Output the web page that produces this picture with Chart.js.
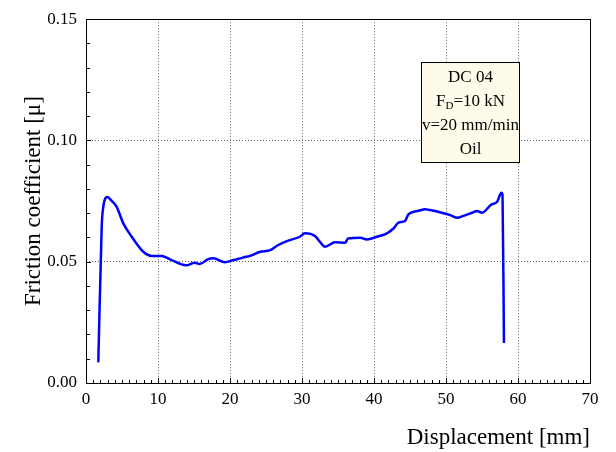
<!DOCTYPE html>
<html>
<head>
<meta charset="utf-8">
<title>Friction coefficient</title>
<script src="https://cdn.jsdelivr.net/npm/chart.js@4/dist/chart.umd.min.js"></script>
<style>
    html, body { margin: 0; padding: 0; background: #fff; }
    #wrap { position: relative; width: 616px; height: 452px; }
    #frictionChart { position: absolute; left: 0; top: 0; }
    .note-box {
        position: absolute; left: 421px; top: 62px; width: 97px;
        padding: 2px 0 1px 0;
        border: 1px solid #000; background: #fffbeb;
        font-family: 'Liberation Serif', 'Times New Roman', serif;
        font-size: 17px; line-height: 24px; text-align: center; color: #000;
    }
    .note-box sub { font-size: 11px; line-height: 0; vertical-align: -3px; }
</style>
</head>
<body>
<div id="wrap">
    <canvas id="frictionChart" width="616" height="452"></canvas>
    <div class="note-box">
        <div>DC 04</div>
        <div>F<sub>D</sub>=10 kN</div>
        <div>v=20 mm/min</div>
        <div>Oil</div>
    </div>
</div>
<script>
// values
var displacement = [1.71, 2.18, 2.4, 2.96, 3.57, 4.26, 5.18, 6.35, 7.96, 9.12,
    10.5, 11.67, 13.9, 15.1, 15.8, 16.98, 17.7, 19.3, 20.5, 21.9,
    22.8, 24.2, 25.6, 26.7, 27.9, 29.7, 30.4, 31.8, 32.5, 33.2,
    34.6, 36.0, 36.4, 38.1, 39.0, 40.4, 41.8, 42.7, 43.4, 44.3,
    44.8, 46.2, 47.1, 47.8, 49.4, 50.6, 51.6, 52.4, 53.6, 54.3,
    55.0, 56.3, 57.1, 57.7, 57.85, 58.05];
var friction = [0.0085, 0.0644, 0.0726, 0.0767, 0.0751, 0.0726, 0.0658, 0.0603, 0.0541, 0.0524,
    0.0524, 0.0510, 0.0485, 0.0496, 0.0491, 0.0511, 0.0514, 0.0498, 0.0507, 0.0518,
    0.0524, 0.0541, 0.0548, 0.0569, 0.0585, 0.0603, 0.0617, 0.0606, 0.0582, 0.0562,
    0.0580, 0.0578, 0.0596, 0.0599, 0.0592, 0.0603, 0.0617, 0.0637, 0.0661, 0.0668,
    0.0696, 0.0710, 0.0716, 0.0713, 0.0702, 0.0692, 0.0681, 0.0689, 0.0702, 0.0709,
    0.0702, 0.0736, 0.0747, 0.0784, 0.0774, 0.0165];

var xTicks = [0, 10, 20, 30, 40, 50, 60, 70];
var yTicks = [0.00, 0.05, 0.10, 0.15];

var serif = "'Liberation Serif', 'Times New Roman', serif";

// frame + small inward tick marks, the way the plotting program draws them
var frameTicks = {
    id: 'frameTicks',
    afterDraw: function (chart) {
        var ctx = chart.ctx;
        var a = chart.chartArea;
        var xs = chart.scales.x, ys = chart.scales.y;
        ctx.save();
        ctx.strokeStyle = '#000';
        ctx.lineWidth = 1;
        ctx.beginPath();
        var i, p;
        for (i = 0; i <= 70; i++) {
            p = Math.round(xs.getPixelForValue(i)) + 0.5;
            ctx.moveTo(p, a.bottom);
            ctx.lineTo(p, a.bottom - (i % 10 === 0 ? 5 : 3));
        }
        for (i = 0; i <= 15; i++) {
            p = Math.round(ys.getPixelForValue(i / 100)) + 0.5;
            ctx.moveTo(a.left, p);
            ctx.lineTo(a.left + (i % 5 === 0 ? 5 : 4), p);
        }
        ctx.stroke();
        ctx.strokeRect(Math.round(a.left) + 0.5, Math.round(a.top) + 0.5,
            Math.round(a.right - a.left), Math.round(a.bottom - a.top));
        ctx.restore();
    }
};

var points = displacement.map(function (d, i) { return { x: d, y: friction[i] }; });

new Chart(document.getElementById('frictionChart').getContext('2d'), {
    type: 'line',
    data: {
        datasets: [{
            data: points,
            borderColor: '#0000ff',
            borderWidth: 2.5,
            pointRadius: 0,
            fill: false,
            cubicInterpolationMode: 'monotone'
        }]
    },
    options: {
        responsive: false,
        animation: false,
        devicePixelRatio: 1,
        layout: { padding: { top: 18, right: 26, bottom: 0, left: 0 } },
        plugins: { legend: { display: false }, tooltip: { enabled: false } },
        scales: {
            x: {
                type: 'linear', min: 0, max: 70,
                afterBuildTicks: function (s) { s.ticks = xTicks.map(function (v) { return { value: v }; }); },
                afterFit: function (s) { s.height = 69; },
                grid: { color: '#666', lineWidth: 1, drawTicks: false },
                border: { display: false, dash: [1, 2] },
                ticks: { color: '#000', padding: 6, maxRotation: 0, font: { family: serif, size: 17 } },
                title: {
                    display: true, text: 'Displacement [mm]', align: 'end', color: '#000',
                    padding: { top: 0, bottom: 0 }, font: { family: serif, size: 23 }
                }
            },
            y: {
                type: 'linear', min: 0, max: 0.15,
                afterBuildTicks: function (s) { s.ticks = yTicks.map(function (v) { return { value: v }; }); },
                afterFit: function (s) { s.width = 86; },
                grid: { color: '#666', lineWidth: 1, drawTicks: false },
                border: { display: false, dash: [1, 2] },
                ticks: {
                    color: '#000', padding: 9, font: { family: serif, size: 17 },
                    callback: function (v) { return v.toFixed(2); }
                },
                title: {
                    display: true, text: 'Friction coefficient [\u03bc]', color: '#000',
                    padding: { top: 20, bottom: 0 }, font: { family: serif, size: 23 }
                }
            }
        }
    },
    plugins: [frameTicks]
});
</script>
</body>
</html>
